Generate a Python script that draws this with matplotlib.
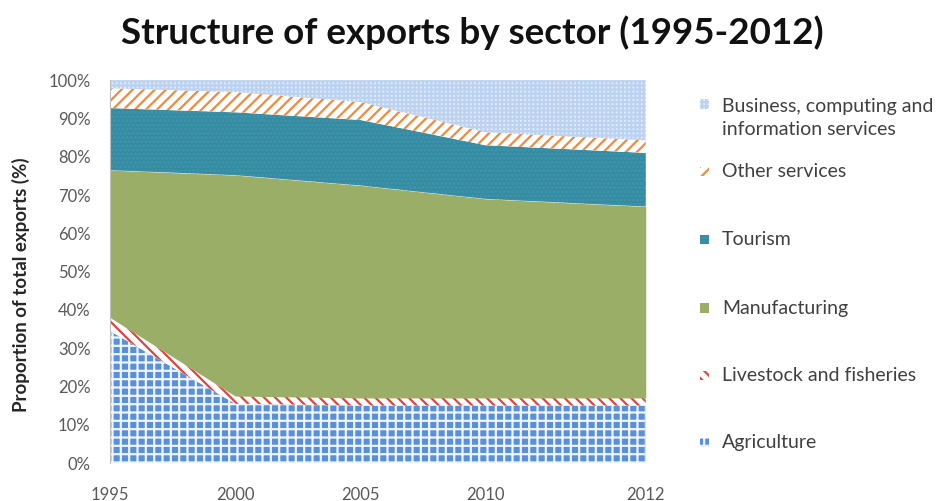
import matplotlib
matplotlib.use("Agg")
import matplotlib.pyplot as plt
from matplotlib.patches import Rectangle
import numpy as np

plt.rcParams['font.family'] = ['Lato', 'DejaVu Sans']
plt.rcParams['hatch.linewidth'] = 1.6

# Share of total exports (%) by sector, stacked bottom to top
years = ["1995", "2000", "2005", "2010", "2012"]
agriculture = [34.5, 15.5, 15.0, 15.0, 15.0]
livestock = [3.5, 2.0, 2.0, 2.0, 2.0]
manufacturing = [38.5, 57.7, 55.5, 52.0, 50.0]
tourism = [16.2, 16.4, 17.1, 14.0, 14.0]
other_services = [5.2, 5.3, 4.7, 3.4, 3.3]
business = [2.1, 3.1, 5.7, 13.6, 15.7]

sectors = ["Agriculture", "Livestock and fisheries", "Manufacturing", "Tourism",
           "Other services", "Business, computing and\ninformation services"]
series = [agriculture, livestock, manufacturing, tourism, other_services, business]

# (face colour, hatch, hatch colour)
styles = [
    ("#5a8fda", "++", "#eef4fc"),
    ("white", "\\\\\\", "#e2443d"),
    ("#9bae68", None, "#9bae68"),
    ("#348aa1", "....", "#4196ac"),
    ("white", "///", "#f08a40"),
    ("#e3ecfa", "++++", "#bcd2f1"),
]

# category positions along the x axis (last one sits at the right edge)
x_pos = [0, 1, 2, 3, 4.28]

fig = plt.figure(figsize=(9.51, 5.01), dpi=100)
ax = fig.add_axes([0.1157, 0.0758, 0.5633, 0.7642])

bottom = np.zeros(len(years))
for vals, (fc, hatch, hc) in zip(series, styles):
    top = bottom + np.array(vals)
    ax.fill_between(x_pos, bottom, top, facecolor=fc, hatch=hatch,
                    edgecolor=hc, linewidth=0)
    bottom = top

ax.set_xlim(x_pos[0], x_pos[-1])
ax.set_ylim(0, 100)
ax.set_yticks(range(0, 101, 10))
ax.set_yticklabels([f"{v}%" for v in range(0, 101, 10)])
ax.set_xticks(x_pos)
ax.set_xticklabels(years)
ax.tick_params(axis='both', length=0, labelsize=12, colors="#595959")
ax.tick_params(axis='x', pad=17)
ax.tick_params(axis='y', pad=14)
for side in ["top", "right", "bottom"]:
    ax.spines[side].set_visible(False)
ax.spines["left"].set_color("#bfbfbf")
ax.spines["left"].set_linewidth(0.8)

ax.set_ylabel("Proportion of total exports (%)", fontsize=13.5, fontweight="bold",
              color="#262626")
ax.yaxis.set_label_coords(-0.15, 0.465)
fig.text(0.497, 0.935, "Structure of exports by sector (1995-2012)",
         ha="center", va="center", fontsize=26.5, fontweight="bold", color="#111111")

# legend drawn by hand, top entry first
legend_y = [0.765, 0.657, 0.521, 0.385, 0.250, 0.116]
for y, name, (fc, hatch, hc) in zip(legend_y, sectors[::-1], styles[::-1]):
    first_line_y = y + (0.027 if "\n" in name else 0)
    fig.add_artist(Rectangle((0.736, first_line_y - 0.009), 0.010, 0.019,
                             transform=fig.transFigure, facecolor=fc,
                             hatch=hatch, edgecolor=hc, linewidth=0))
    fig.text(0.759, y, name, ha="left", va="center", fontsize=14,
             color="#404040", linespacing=1.45)

fig.savefig("out.png", dpi=100)
